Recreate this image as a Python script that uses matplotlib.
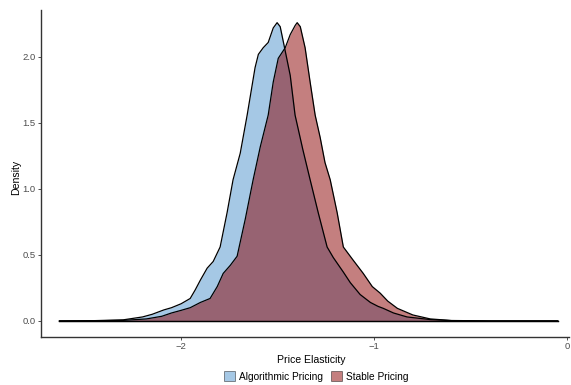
import matplotlib
matplotlib.use("Agg")
import matplotlib.pyplot as plt
from matplotlib.patches import Patch

plt.rcParams['font.family'] = ['Liberation Sans', 'DejaVu Sans']

# Algorithmic Pricing density
algo_x = [-2.63, -2.45, -2.30, -2.20, -2.15, -2.09, -2.05, -2.00, -1.953, -1.927, -1.90, -1.865,
          -1.834, -1.798, -1.762, -1.731, -1.694, -1.658, -1.617, -1.60, -1.575, -1.549,
          -1.523, -1.503, -1.487, -1.47, -1.435, -1.41, -1.37, -1.332, -1.29, -1.244,
          -1.212, -1.16, -1.124, -1.073, -1.02, -0.98, -0.953, -0.90, -0.83, -0.71,
          -0.60, -0.40, -0.20, -0.05]
algo_y = [0.0, 0.002, 0.008, 0.03, 0.05, 0.083, 0.10, 0.13, 0.17, 0.235, 0.31, 0.40,
          0.45, 0.56, 0.82, 1.07, 1.27, 1.56, 1.92, 2.02, 2.07, 2.11,
          2.22, 2.26, 2.23, 2.11, 1.86, 1.56, 1.30, 1.07, 0.82, 0.56,
          0.48, 0.37, 0.29, 0.20, 0.14, 0.11, 0.095, 0.06, 0.03, 0.01,
          0.002, 0.0, 0.0, 0.0]

# Stable Pricing density
stable_x = [-2.63, -2.45, -2.30, -2.18, -2.10, -2.05, -2.00, -1.953, -1.90, -1.85, -1.813,
            -1.782, -1.746, -1.71, -1.668, -1.627, -1.59, -1.549, -1.523, -1.497, -1.461,
            -1.435, -1.409, -1.399, -1.383, -1.358, -1.332, -1.306, -1.28, -1.255, -1.228,
            -1.192, -1.16, -1.109, -1.057, -1.01, -0.969, -0.93, -0.88, -0.80, -0.71,
            -0.60, -0.40, -0.20, -0.05]
stable_y = [0.0, 0.001, 0.004, 0.015, 0.035, 0.06, 0.08, 0.10, 0.14, 0.17, 0.26,
            0.36, 0.42, 0.49, 0.77, 1.07, 1.32, 1.56, 1.81, 1.99, 2.07,
            2.17, 2.24, 2.26, 2.23, 2.07, 1.81, 1.56, 1.39, 1.20, 1.07,
            0.82, 0.56, 0.46, 0.36, 0.26, 0.21, 0.15, 0.095, 0.045, 0.015,
            0.003, 0.0, 0.0, 0.0]

series_names = ["Algorithmic Pricing", "Stable Pricing"]
series_colors = ["#4d93cd", "#8a0000"]
x_ticks = [-2, -1, 0]
x_tick_labels = ["\u22122", "\u22121", "0"]
y_ticks = [0.0, 0.5, 1.0, 1.5, 2.0]
y_tick_labels = ["0.0", "0.5", "1.0", "1.5", "2.0"]

fig = plt.figure(figsize=(5.71, 3.85), dpi=100)
ax = fig.add_axes([0.072, 0.125, 0.925, 0.849])

for xs, ys, c in [(algo_x, algo_y, series_colors[0]), (stable_x, stable_y, series_colors[1])]:
    ax.fill_between(xs, ys, 0, color=c, alpha=0.5, linewidth=0)
    ax.plot(xs, ys, color="black", linewidth=0.9, solid_joinstyle='round')
    ax.plot([xs[0], xs[-1]], [0, 0], color="black", linewidth=0.9)

ax.set_xlim(-2.725, 0.010)
ax.set_ylim(-0.121, 2.356)
ax.set_xticks(x_ticks)
ax.set_xticklabels(x_tick_labels)
ax.set_yticks(y_ticks)
ax.set_yticklabels(y_tick_labels)
ax.tick_params(axis='both', colors='#333333', labelcolor='#4d4d4d', labelsize=6.8,
               length=2.5, width=0.6, pad=1.5)
for s in ['top', 'right']:
    ax.spines[s].set_visible(False)
for s in ['left', 'bottom']:
    ax.spines[s].set_color('#333333')
    ax.spines[s].set_linewidth(1.0)

ax.set_xlabel("Price Elasticity", fontsize=7.6)
ax.set_ylabel("Density", fontsize=7.6)
ax.xaxis.set_label_coords(0.511, -0.055)
ax.yaxis.set_label_coords(-0.038, 0.488)

handles = [Patch(facecolor=c, alpha=0.5, edgecolor='black', linewidth=0.6) for c in series_colors]
leg = fig.legend(handles, series_names, loc='center', bbox_to_anchor=(0.554, 0.022), ncol=2,
                 frameon=False, fontsize=7.3, handlelength=1.1, handleheight=1.1,
                 handletextpad=0.4, columnspacing=0.8)
for h in leg.legend_handles:
    h.set_edgecolor('black')

fig.savefig("out.png", dpi=100)
